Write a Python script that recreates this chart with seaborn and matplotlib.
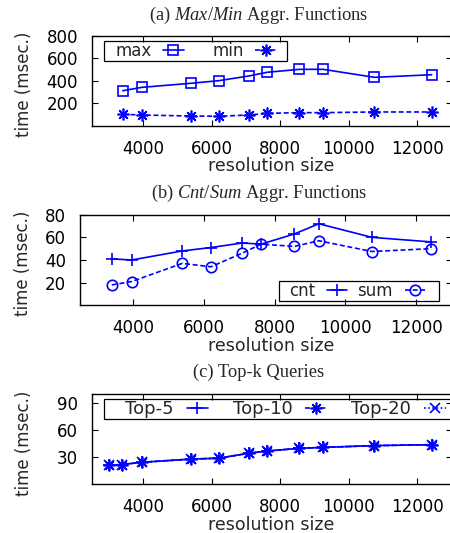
import matplotlib
matplotlib.use("Agg")
import matplotlib.pyplot as plt
from matplotlib.patches import Rectangle
import seaborn as sns
import pandas as pd

# ---- data ----
res_ab = [3400, 3960, 5390, 6200, 7080, 7620, 8560, 9250, 10750, 12420]
max_ms = [311, 341, 377, 400, 442, 475, 501, 501, 430, 453]
min_ms = [101, 95, 86, 84, 95, 110, 116, 116, 122, 122]
cnt_ms = [41, 40, 48, 51, 55, 54, 63, 72, 60, 56]
sum_ms = [18, 21, 37, 34, 46, 54, 52, 57, 47.5, 50]
res_c = [3000, 3380, 3970, 5390, 6200, 7080, 7620, 8560, 9250, 10750, 12420]
top5_ms = [21, 22, 24.5, 28, 29, 34.5, 37, 40, 41, 43, 44]
top10_ms = [21, 22, 24.5, 28, 29, 34.5, 37, 40, 41, 43, 44]
top20_ms = [21, 22, 24.5, 28, 29, 34.5, 37, 40, 41, 43, 44]
xticks = [4000, 6000, 8000, 10000, 12000]
yticks_a = [200, 400, 600, 800]
yticks_b = [20, 40, 60, 80]
yticks_c = [30, 60, 90]
titles = ["(a) $\\it{Max/Min}$ Aggr. Functions",
          "(b) $\\it{Cnt/Sum}$ Aggr. Functions",
          "(c) Top-k Queries"]

sns.set_style("ticks")
plt.rcParams['font.family'] = ['DejaVu Sans']
plt.rcParams['mathtext.fontset'] = 'custom'
plt.rcParams['mathtext.it'] = 'Liberation Serif:italic'
plt.rcParams['mathtext.rm'] = 'Liberation Serif'

BLUE = '#0000ff'
FS = 12

fig = plt.figure(figsize=(4.5, 5.33), dpi=100)
W, H = 450.0, 533.0

def make_ax(left, top, right, bottom):
    return fig.add_axes([left / W, 1 - bottom / H, (right - left) / W, (bottom - top) / H])

ax_a = make_ax(92, 35.7, 451.5, 125.7)
ax_b = make_ax(80, 214.7, 451.5, 305.3)
ax_c = make_ax(92, 394.3, 451.5, 484.3)

ast = (8, 2, 0)
dash = (0, (3, 1.6))
dot = (0, (1, 1.5))
common = dict(color=BLUE, lw=1.2, markeredgecolor=BLUE, markeredgewidth=1.2)

# panel a
df_a = pd.DataFrame({"res": res_ab, "max": max_ms, "min": min_ms})
sns.lineplot(data=df_a, x="res", y="max", ax=ax_a, marker='s', markersize=6.5,
             markerfacecolor='none', label='max', **common)
sns.lineplot(data=df_a, x="res", y="min", ax=ax_a, linestyle=dash, marker=ast, markersize=8.5,
             label='min', **common)

# panel b
df_b = pd.DataFrame({"res": res_ab, "cnt": cnt_ms, "sum": sum_ms})
sns.lineplot(data=df_b, x="res", y="cnt", ax=ax_b, marker='+', markersize=9, label='cnt', **common)
sns.lineplot(data=df_b, x="res", y="sum", ax=ax_b, linestyle=dash, marker='o', markersize=7.5,
             markerfacecolor='none', label='sum', **common)

# panel c
df_c = pd.DataFrame({"res": res_c, "t5": top5_ms, "t10": top10_ms, "t20": top20_ms})
sns.lineplot(data=df_c, x="res", y="t5", ax=ax_c, marker='+', markersize=9, label='Top-5', **common)
sns.lineplot(data=df_c, x="res", y="t10", ax=ax_c, linestyle=dash, marker=ast, markersize=8.5,
             label='Top-10', **common)
sns.lineplot(data=df_c, x="res", y="t20", ax=ax_c, linestyle=dot, marker='x', markersize=7,
             label='Top-20', **common)

for ax, yt, ylim in [(ax_a, yticks_a, (0, 800)), (ax_b, yticks_b, (0, 80)), (ax_c, yticks_c, (0, 100))]:
    ax.set_xlim(2500, 13000)
    ax.set_ylim(*ylim)
    ax.set_xticks(xticks)
    ax.set_yticks(yt)
    ax.set_xticklabels([str(v) for v in xticks])
    ax.set_yticklabels([str(v) for v in yt])
    ax.tick_params(direction='in', top=True, right=True, length=4, width=0.8, labelsize=FS,
                   colors='black', pad=10)
    ax.tick_params(axis='x', pad=10)
    for s in ax.spines.values():
        s.set_visible(True)
        s.set_color('black')
        s.set_linewidth(1.0)
    ax.set_xlabel("resolution size", fontsize=12.5)
    ax.set_ylabel("time (msec.)", fontsize=FS)

ax_a.yaxis.set_label_coords((24 - 92) / 359.5, 0.46)
ax_b.yaxis.set_label_coords((23 - 80) / 371.5, 0.46)
ax_c.yaxis.set_label_coords((24 - 92) / 359.5, 0.46)
ax_a.xaxis.set_label_coords(0.498, (125.7 - 166) / 90)
ax_b.xaxis.set_label_coords((271 - 80) / 371.5, (305.3 - 346) / 90.6)
ax_c.xaxis.set_label_coords(0.498, (484.3 - 524.5) / 90)
for ax in (ax_a, ax_b, ax_c):
    ax.xaxis.label.set_va('center')
    ax.yaxis.label.set_va('center')

# legends (gnuplot style: label then sample, framed box)
legs = [
    (ax_a, (0.064, 0.832), (0.0342, 0.719, 0.543, 0.944), 0.68, 1.26, 1.74, 12),
    (ax_b, (0.5634, 0.158), (0.5365, 0.0475, 0.967, 0.268), 0.72, 1.2, 0.58, 12),
    (ax_c, (0.0918, 0.833), (0.0334, 0.722, 1.2, 0.944), 0.72, 1.2, 1.35, 13),
]
for ax, anchor, box, htp, hl, cs, fs in legs:
    leg = ax.legend(loc='center left', bbox_to_anchor=anchor, ncol=3, markerfirst=False,
                    frameon=False, borderaxespad=0, borderpad=0, fontsize=fs,
                    handlelength=hl, handletextpad=htp, columnspacing=cs)
    x0, y0, x1, y1 = box
    ax.add_patch(Rectangle((x0, y0), x1 - x0, y1 - y0, transform=ax.transAxes, fill=False,
                           edgecolor='black', lw=0.9, clip_on=False, zorder=5))

for y, t in zip([15, 193.3, 372.7], titles):
    fig.text(259 / W, 1 - y / H, t, ha='center', va='center', fontsize=13.3,
             family='Liberation Serif')

fig.savefig("out.png", dpi=100)
